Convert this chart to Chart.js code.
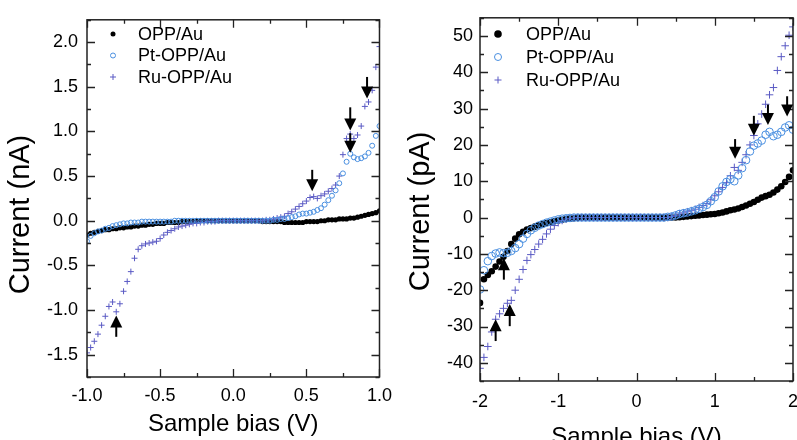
<!DOCTYPE html>
<html><head><meta charset="utf-8">
<script src="https://cdn.jsdelivr.net/npm/chart.js@4/dist/chart.umd.min.js"></script>
<style>
html,body{margin:0;padding:0;width:797px;height:440px;overflow:hidden;background:#fff;}
#wl{position:absolute;left:0;top:0;width:400px;height:460px;}
#wr{position:absolute;left:400px;top:0;width:420px;height:460px;}
</style></head><body>
<div id="wl"><canvas id="cl" width="400" height="460"></canvas></div>
<div id="wr"><canvas id="cr" width="420" height="460"></canvas></div>
<script>
// ---------- data ----------
const seriesNames = ['OPP/Au', 'Pt-OPP/Au', 'Ru-OPP/Au'];

const leftXTicks = [-1, -0.5, 0, 0.5, 1];
const leftYTicks = [-1.5, -1, -0.5, 0, 0.5, 1, 1.5, 2];
const rightXTicks = [-2, -1, 0, 1, 2];
const rightYTicks = [-40, -30, -20, -10, 0, 10, 20, 30, 40, 50];

const leftBias = [-1, -0.975, -0.95, -0.925, -0.9, -0.875, -0.85, -0.825, -0.8, -0.775,
  -0.75, -0.725, -0.7, -0.675, -0.65, -0.625, -0.6, -0.575, -0.55, -0.525,
  -0.5, -0.475, -0.45, -0.425, -0.4, -0.375, -0.35, -0.325, -0.3, -0.275,
  -0.25, -0.225, -0.2, -0.175, -0.15, -0.125, -0.1, -0.075, -0.05, -0.025,
  0, 0.025, 0.05, 0.075, 0.1, 0.125, 0.15, 0.175, 0.2, 0.225,
  0.25, 0.275, 0.3, 0.325, 0.35, 0.375, 0.4, 0.425, 0.45, 0.475,
  0.5, 0.525, 0.55, 0.575, 0.6, 0.625, 0.65, 0.675, 0.7, 0.725,
  0.75, 0.775, 0.8, 0.825, 0.85, 0.875, 0.9, 0.925, 0.95, 0.975, 1];
const leftOPP = [-0.16, -0.14, -0.13, -0.12, -0.11, -0.10, -0.10, -0.09, -0.09, -0.08,
  -0.08, -0.07, -0.07, -0.06, -0.06, -0.05, -0.05, -0.04, -0.04, -0.03,
  -0.03, -0.03, -0.02, -0.02, -0.02, -0.02, -0.01, -0.01, -0.01, -0.01,
  0, 0, 0, 0, 0, 0, 0, 0, 0, 0,
  0, 0, 0, 0, 0, 0, 0, 0, -0.01, -0.01,
  -0.01, -0.01, -0.01, -0.01, -0.02, -0.02, -0.02, -0.02, -0.02, -0.02,
  -0.01, -0.01, -0.01, -0.01, 0, 0, 0.01, 0.01, 0.01, 0.02,
  0.02, 0.02, 0.03, 0.03, 0.04, 0.05, 0.06, 0.07, 0.08, 0.09, 0.11];
const leftPt = [-0.23, -0.17, -0.14, -0.12, -0.11, -0.09, -0.08, -0.06, -0.05, -0.04,
  -0.03, -0.03, -0.02, -0.02, -0.02, -0.01, -0.01, -0.01, -0.01, -0.01,
  -0.01, -0.01, -0.01, -0.01, 0, 0, 0, 0, 0, 0,
  0, 0, 0, 0, 0, 0, 0, 0, 0, 0,
  0, 0, 0, 0, 0, 0, 0, 0, 0, 0,
  0, 0.01, 0.01, 0.02, 0.02, 0.03, 0.04, 0.05, 0.07, 0.08,
  0.08, 0.09, 0.10, 0.12, 0.14, 0.18, 0.23, 0.28, 0.34, 0.42,
  0.53, 0.66, 0.75, 0.71, 0.69, 0.70, 0.72, 0.76, 0.84, 0.95, 1.06];
const leftRu = [-1.48, -1.42, -1.35, -1.27, -1.17, -1.07, -0.96, -0.91, -1.02, -0.93,
  -0.79, -0.68, -0.57, -0.42, -0.32, -0.28, -0.26, -0.25, -0.24, -0.23,
  -0.20, -0.16, -0.13, -0.11, -0.09, -0.07, -0.06, -0.05, -0.04, -0.03,
  -0.03, -0.02, -0.02, -0.01, -0.01, -0.01, 0, 0, 0, 0,
  0, 0, 0, 0, 0, 0, 0, 0, 0, 0.01,
  0.01, 0.02, 0.03, 0.04, 0.05, 0.08, 0.10, 0.13, 0.16, 0.19,
  0.22, 0.26, 0.27, 0.25, 0.28, 0.30, 0.33, 0.36, 0.40, 0.50,
  0.74, 0.92, 0.97, 0.92, 0.96, 1.06, 1.28, 1.33, 1.46, 1.72, 1.95];

const rightBias = [-2, -1.95, -1.9, -1.85, -1.8, -1.75, -1.7, -1.65, -1.6, -1.55,
  -1.5, -1.45, -1.4, -1.35, -1.3, -1.25, -1.2, -1.15, -1.1, -1.05,
  -1, -0.95, -0.9, -0.85, -0.8, -0.75, -0.7, -0.65, -0.6, -0.55,
  -0.5, -0.45, -0.4, -0.35, -0.3, -0.25, -0.2, -0.15, -0.1, -0.05,
  0, 0.05, 0.1, 0.15, 0.2, 0.25, 0.3, 0.35, 0.4, 0.45,
  0.5, 0.55, 0.6, 0.65, 0.7, 0.75, 0.8, 0.85, 0.9, 0.95,
  1, 1.05, 1.1, 1.15, 1.2, 1.25, 1.3, 1.35, 1.4, 1.45,
  1.5, 1.55, 1.6, 1.65, 1.7, 1.75, 1.8, 1.85, 1.9, 1.95, 2];
const rightOPP = [-23.5, -17.0, -15.8, -14.8, -13.5, -12.1, -10.8, -9.2, -7.3, -5.8,
  -4.6, -3.9, -3.3, -2.9, -2.5, -2.1, -1.8, -1.5, -1.3, -1.0,
  -0.8, -0.6, -0.4, -0.3, -0.2, -0.1, 0, 0, 0, 0,
  0, 0, 0, 0, 0, 0, 0, 0, 0, 0,
  0, 0, 0, 0, 0, 0, 0, 0, 0, 0,
  0, 0.1, 0.2, 0.3, 0.4, 0.5, 0.6, 0.7, 0.8, 0.9,
  1.0, 1.2, 1.4, 1.7, 2.0, 2.2, 2.5, 2.9, 3.3, 3.8,
  4.3, 4.9, 5.5, 5.9, 6.3, 6.9, 7.7, 8.6, 9.8, 11.2, 13.0];
const rightPt = [-19.8, -14.5, -12.0, -10.6, -9.9, -9.6, -9.8, -9.7, -9.2, -8.4,
  -7.3, -5.8, -4.5, -3.5, -2.8, -2.2, -1.8, -1.4, -1.1, -0.8,
  -0.5, -0.3, -0.2, -0.1, 0, 0, 0, 0, 0, 0,
  0, 0, 0, 0, 0, 0, 0, 0, 0, 0,
  0, 0, 0, 0, 0, 0, 0, 0, 0.2, 0.3,
  0.6, 1.0, 1.2, 1.4, 1.7, 2.0, 2.4, 2.9, 3.5, 4.5,
  5.6, 7.2, 8.6, 9.8, 10.6, 10.0, 11.6, 13.6, 15.8, 18.2,
  19.8, 20.4, 21.2, 22.8, 23.6, 22.4, 22.8, 23.6, 24.8, 25.4, 24.2];
const rightRu = [-41.5, -38.5, -35.5, -31.5, -28.0, -26.5, -25.0, -23.6, -22.8, -20.0,
  -17.0, -14.3, -11.8, -10.2, -8.8, -7.3, -6.0, -4.5, -3.2, -2.2,
  -1.4, -0.8, -0.4, -0.2, -0.1, 0, 0, 0, 0, 0,
  0, 0, 0, 0, 0, 0, 0, 0, 0, 0,
  0, 0, 0, 0, 0, 0, 0, 0, 0, 0.3,
  0.6, 1.0, 1.3, 1.6, 1.9, 2.3, 2.8, 3.3, 3.9, 4.9,
  6.0, 7.1, 8.3, 9.6, 11.5, 13.8, 13.0, 15.2, 17.3, 20.0,
  22.6, 25.8, 28.5, 31.2, 33.8, 35.8, 40.5, 44.3, 47.3, 50.2, 52.5];

// arrow annotations (bias, tip current, tail current)
const leftArrowX    = [0.54, 0.80, 0.80, 0.915, -0.80];
const leftArrowTip  = [0.33, 1.01, 0.76, 1.37, -1.06];
const leftArrowTail = [0.57, 1.27, 0.98, 1.61, -1.30];
const rightArrowX    = [1.26, 1.50, 1.68, 1.925, -1.695, -1.80, -1.62];
const rightArrowTip  = [16.2, 22.5, 25.5, 27.8, -11.2, -28.0, -23.8];
const rightArrowTail = [21.6, 28.0, 31.1, 33.4, -17.1, -34.0, -29.9];

// ---------- style ----------
const FONT = "'Liberation Sans', Arial, Helvetica, sans-serif";
const COL_OPP = '#000000', COL_PT = '#4a8fe0', COL_RU = '#5a5ac4';

function pts(xs, ys) { return xs.map((x, i) => ({x: x, y: ys[i]})); }

function makeDatasets(xs, a, b, c, s) {
  return [
    {label: seriesNames[0], data: pts(xs, a), pointStyle: 'circle', pointRadius: s.dot,
     backgroundColor: COL_OPP, borderColor: COL_OPP, pointBorderWidth: 0, order: 3, mk: {type: 'dot', color: COL_OPP, r: s.lgDot}},
    {label: seriesNames[1], data: pts(xs, b), pointStyle: 'circle', pointRadius: s.circ,
     backgroundColor: 'rgba(0,0,0,0)', borderColor: COL_PT, pointBorderWidth: 1, order: 1, mk: {type: 'circ', color: COL_PT, r: s.lgCirc}},
    {label: seriesNames[2], data: pts(xs, c), pointStyle: 'cross', pointRadius: s.cross,
     backgroundColor: COL_RU, borderColor: COL_RU, pointBorderWidth: 1, order: 2, mk: {type: 'plus', color: COL_RU, r: s.lgCross}}
  ];
}

const framePlugin = {
  id: 'frame',
  afterDatasetsDraw(chart) {
    const o = chart.options.plugins.frame;
    const ctx = chart.ctx, a = chart.chartArea, x = chart.scales.x, y = chart.scales.y;
    ctx.save();
    ctx.strokeStyle = '#222'; ctx.lineWidth = 1.5;
    ctx.strokeRect(a.left, a.top, a.right - a.left, a.bottom - a.top);
    ctx.lineWidth = 1.3;
    ctx.beginPath();
    const isMul = (v, m) => Math.abs(v / m - Math.round(v / m)) < 1e-6;
    for (let k = 0; ; k++) {
      const v = x.min + k * o.xMinor;
      if (v > x.max + 1e-9) break;
      const px = Math.round(x.getPixelForValue(v)) + 0.5;
      const L = isMul(v, o.xMajor) ? o.major : o.minor;
      ctx.moveTo(px, a.bottom); ctx.lineTo(px, a.bottom - L);
      ctx.moveTo(px, a.top); ctx.lineTo(px, a.top + L);
    }
    for (let k = 0; ; k++) {
      const v = y.min + k * o.yMinor;
      if (v > y.max + 1e-9) break;
      const py = Math.round(y.getPixelForValue(v)) + 0.5;
      const L = isMul(v, o.yMajor) ? o.major : o.minor;
      ctx.moveTo(a.left, py); ctx.lineTo(a.left + L, py);
      ctx.moveTo(a.right, py); ctx.lineTo(a.right - L, py);
    }
    ctx.stroke();
    // arrows
    ctx.fillStyle = '#000'; ctx.strokeStyle = '#000';
    for (let i = 0; i < o.arrows.x.length; i++) {
      const px = x.getPixelForValue(o.arrows.x[i]);
      const tip = y.getPixelForValue(o.arrows.tip[i]);
      const tail = y.getPixelForValue(o.arrows.tail[i]);
      const dir = tip > tail ? 1 : -1;
      const hl = o.arrows.headLen, hw = o.arrows.headW / 2;
      ctx.lineWidth = 2;
      ctx.beginPath(); ctx.moveTo(px, tail); ctx.lineTo(px, tip - dir * hl * 0.8); ctx.stroke();
      ctx.beginPath(); ctx.moveTo(px, tip); ctx.lineTo(px - hw, tip - dir * hl); ctx.lineTo(px + hw, tip - dir * hl);
      ctx.closePath(); ctx.fill();
    }
    // legend
    const lg = o.legend;
    ctx.font = lg.size + 'px ' + FONT;
    ctx.textBaseline = 'middle'; ctx.textAlign = 'left';
    chart.data.datasets.forEach((ds, i) => {
      const cy = lg.y0 + i * lg.dy, mk = ds.mk;
      ctx.strokeStyle = mk.color; ctx.fillStyle = mk.color; ctx.lineWidth = 1;
      ctx.beginPath();
      if (mk.type === 'dot') { ctx.arc(lg.x, cy, mk.r, 0, Math.PI * 2); ctx.fill(); }
      else if (mk.type === 'circ') { ctx.arc(lg.x, cy, mk.r, 0, Math.PI * 2); ctx.stroke(); }
      else { ctx.moveTo(lg.x - mk.r, cy); ctx.lineTo(lg.x + mk.r, cy); ctx.moveTo(lg.x, cy - mk.r); ctx.lineTo(lg.x, cy + mk.r); ctx.stroke(); }
      ctx.fillStyle = '#000';
      ctx.fillText(ds.label, lg.textX, cy + 1);
    });
    ctx.restore();
  }
};

function makeChart(id, cfg) {
  return new Chart(document.getElementById(id), {
    type: 'scatter',
    data: {datasets: cfg.datasets},
    plugins: [framePlugin],
    options: {
      responsive: false, animation: false, events: [],
      layout: {padding: cfg.padding},
      plugins: {legend: {display: false}, tooltip: {enabled: false}, frame: cfg.frame},
      scales: {
        x: {type: 'linear', min: cfg.xMin, max: cfg.xMax,
            grid: {display: false, drawTicks: false}, border: {display: false},
            afterBuildTicks: s => { s.ticks = cfg.xTicks.map(v => ({value: v})); },
            ticks: {padding: cfg.xPad, autoSkip: false, maxRotation: 0, color: '#000',
                    font: {size: 18, family: FONT}, callback: cfg.xFmt},
            title: {display: true, text: 'Sample bias (V)', color: '#000', font: {size: 24, family: FONT},
                    padding: {top: 0, bottom: cfg.xTitlePad}},
            afterFit: s => { s.height = cfg.xHeight; }},
        y: {type: 'linear', min: cfg.yMin, max: cfg.yMax,
            grid: {display: false, drawTicks: false}, border: {display: false},
            afterBuildTicks: s => { s.ticks = cfg.yTicks.map(v => ({value: v})); },
            ticks: {padding: cfg.yPad, autoSkip: false, color: '#000',
                    font: {size: 18, family: FONT}, callback: cfg.yFmt},
            title: {display: true, text: cfg.yTitle, color: '#000', font: {size: 29, family: FONT},
                    padding: {top: 4, bottom: 0}},
            afterFit: s => { s.width = cfg.yWidth; }}
      }
    }
  });
}

makeChart('cl', {
  datasets: makeDatasets(leftBias, leftOPP, leftPt, leftRu, {dot: 2.6, circ: 2.5, cross: 3, lgDot: 2.5, lgCirc: 2.5, lgCross: 3}),
  padding: {top: 14, right: 14, left: 0, bottom: 0},
  xMin: -1, xMax: 1, xTicks: leftXTicks, xPad: 8, xHeight: 83, xTitlePad: 21,
  xFmt: v => Number(v).toFixed(1),
  yMin: -1.75, yMax: 2.25, yTicks: leftYTicks, yPad: 9, yWidth: 87,
  yFmt: v => Number(v).toFixed(1),
  yTitle: 'Current (nA)    ',
  frame: {xMinor: 0.25, xMajor: 0.5, yMinor: 0.25, yMajor: 0.5, major: 8, minor: 4,
          arrows: {x: leftArrowX, tip: leftArrowTip, tail: leftArrowTail, headLen: 12, headW: 12},
          legend: {x: 113, textX: 138, y0: 34, dy: 21.5, size: 18}}
});

makeChart('cr', {
  datasets: makeDatasets(rightBias, rightOPP, rightPt, rightRu, {dot: 3.3, circ: 3.8, cross: 3.8, lgDot: 3.8, lgCirc: 3.5, lgCross: 3.5}),
  padding: {top: 15, right: 27, left: 0, bottom: 0},
  xMin: -2, xMax: 2, xTicks: rightXTicks, xPad: 10, xHeight: 79, xTitlePad: 8,
  xFmt: v => String(Math.round(v)),
  yMin: -45, yMax: 55, yTicks: rightYTicks, yPad: 7, yWidth: 80,
  yFmt: v => String(Math.round(v)),
  yTitle: 'Current (pA)   ',
  frame: {xMinor: 0.5, xMajor: 1, yMinor: 5, yMajor: 10, major: 8, minor: 4,
          arrows: {x: rightArrowX, tip: rightArrowTip, tail: rightArrowTail, headLen: 12, headW: 12},
          legend: {x: 98, textX: 126, y0: 34, dy: 23, size: 18}}
});
</script>
</body></html>
